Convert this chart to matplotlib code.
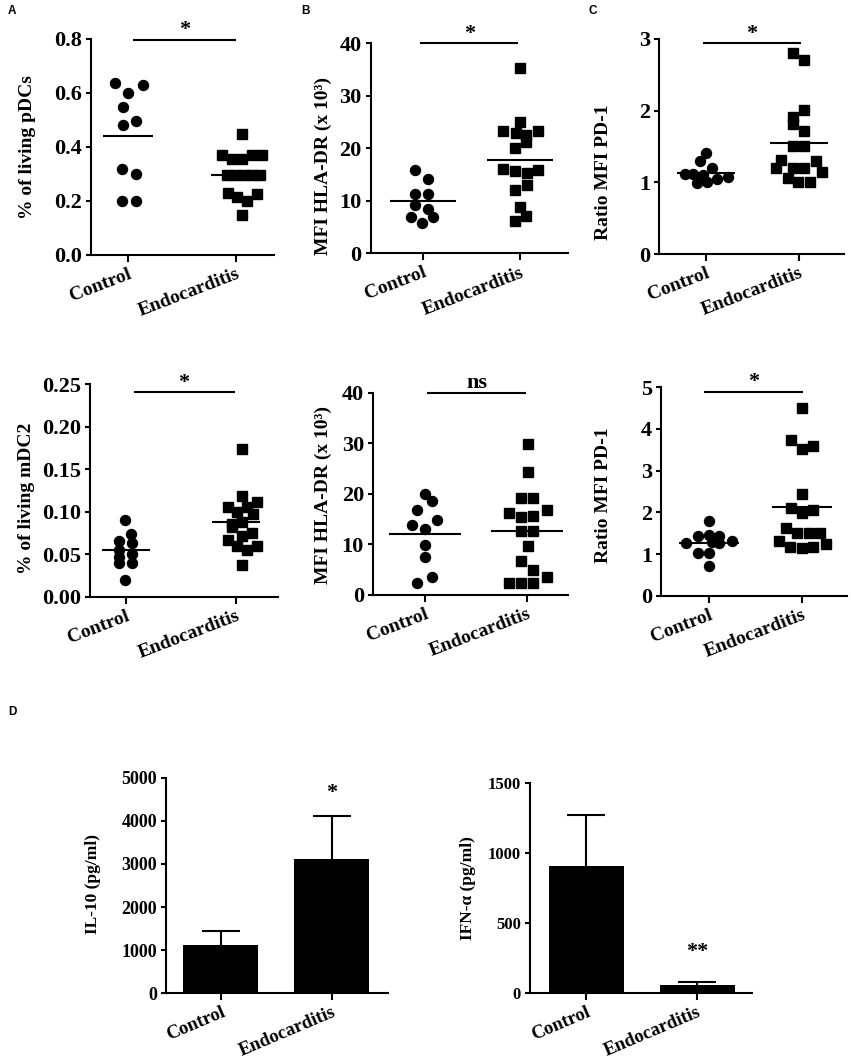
import matplotlib
matplotlib.use("Agg")
import matplotlib.pyplot as plt
import numpy as np

W, H = 851, 1062
plt.rcParams['font.family'] = ['Liberation Serif', 'DejaVu Serif']
plt.rcParams['font.weight'] = 'bold'

groups = ["Control", "Endocarditis"]

# ---------------- data ----------------
# A top: % of living pDCs
pdc_ctrl = [0.638, 0.630, 0.601, 0.549, 0.481, 0.497, 0.318, 0.300, 0.200, 0.200]
pdc_ctrl_dx = [-0.124, 0.139, 0.0, -0.046, -0.046, 0.071, -0.053, 0.071, -0.053, 0.071]
pdc_endo = [0.447, 0.370, 0.355, 0.355, 0.370, 0.370, 0.296, 0.296, 0.296, 0.296, 0.296,
            0.228, 0.215, 0.200, 0.225, 0.148]
pdc_endo_dx = [0.053, -0.133, -0.034, 0.053, 0.146, 0.238, -0.087, -0.009, 0.068, 0.146, 0.217,
               -0.071, 0.012, 0.099, 0.192, 0.053]

# B top: MFI HLA-DR pDCs
hla1_ctrl = [15.9, 14.1, 11.2, 11.2, 9.2, 8.4, 7.0, 6.9, 5.7]
hla1_ctrl_dx = [-0.08, 0.045, -0.08, 0.045, -0.08, 0.045, -0.13, 0.10, -0.013]
hla1_endo = [35.2, 25.1, 23.3, 22.9, 23.3, 22.5, 21.2, 20.0, 16.1, 15.6, 15.2, 15.9, 13.1,
             12.1, 8.9, 7.1, 6.2]
hla1_endo_dx = [0, 0, -0.18, -0.05, 0.18, 0.06, 0.06, -0.06, -0.18, -0.06, 0.07, 0.18, 0.07,
                -0.06, 0, 0.06, -0.06]

# C top: Ratio MFI PD-1 pDCs
pd1_ctrl = [1.405, 1.30, 1.205, 1.116, 1.116, 1.10, 1.08, 1.04, 0.995, 1.0]
pd1_ctrl_dx = [0.0, -0.07, 0.06, -0.225, -0.136, -0.036, 0.24, 0.12, -0.1, 0.007]
pd1_endo = [2.81, 2.71, 2.01, 1.91, 1.82, 1.72, 1.51, 1.51, 1.31, 1.30, 1.20, 1.20, 1.20,
            1.14, 1.06, 1.01, 1.01]
pd1_endo_dx = [-0.07, 0.054, 0.054, -0.07, -0.07, 0.054, -0.07, 0.054, -0.196, 0.18, -0.25,
               -0.07, 0.054, 0.246, -0.125, -0.01, 0.114]

# A bottom: % of living mDC2
mdc_ctrl = [0.0903, 0.0735, 0.066, 0.055, 0.047, 0.040, 0.063, 0.050, 0.040, 0.0196]
mdc_ctrl_dx = [-0.01, 0.045, -0.07, -0.07, -0.07, -0.07, 0.052, 0.052, 0.052, -0.01]
mdc_endo = [0.1735, 0.119, 0.112, 0.105, 0.105, 0.100, 0.097, 0.088, 0.085, 0.082, 0.075,
            0.072, 0.067, 0.060, 0.060, 0.055, 0.037]
mdc_endo_dx = [0.05, 0.05, 0.19, -0.076, 0.097, 0.006, 0.15, 0.05, -0.04, -0.04, 0.14, 0.05,
               -0.076, 0.006, 0.19, 0.097, 0.05]

# B bottom: MFI HLA-DR mDC2
hla2_ctrl = [19.9, 18.6, 16.8, 14.8, 13.8, 13.0, 9.9, 7.6, 3.6, 2.3]
hla2_ctrl_dx = [0, 0.066, -0.075, 0.12, -0.125, 0, 0, 0, 0.066, -0.075]
hla2_endo = [29.8, 24.4, 19.1, 19.1, 16.2, 15.4, 15.6, 16.8, 12.7, 12.7, 9.75, 6.8, 4.94,
             2.43, 2.31, 2.43, 3.6]
hla2_endo_dx = [0.007, 0.007, -0.06, 0.06, -0.18, -0.06, 0.06, 0.19, -0.06, 0.06, 0.007,
                -0.06, 0.06, -0.18, -0.06, 0.06, 0.19]

# C bottom: Ratio MFI PD-1 mDC2
pd2_ctrl = [1.80, 1.43, 1.46, 1.43, 1.26, 1.31, 1.26, 1.29, 1.03, 1.03, 0.71]
pd2_ctrl_dx = [0.003, -0.115, 0.003, 0.11, -0.247, 0.244, 0.11, 0.03, -0.115, 0.003, 0.003]
pd2_endo = [4.51, 3.74, 3.60, 3.51, 2.43, 2.10, 2.06, 1.99, 1.62, 1.50, 1.50, 1.50, 1.31,
            1.18, 1.14, 1.18, 1.23]
pd2_endo_dx = [0, -0.118, 0.12, 0, 0, -0.118, 0.12, 0, -0.17, -0.057, 0.068, 0.186, -0.255,
               -0.13, 0, 0.12, 0.255]

# D: cytokines (mean + SEM)
il10_mean = [1121, 3114]
il10_sem = [324, 997]
ifna_mean = [912, 60]
ifna_sem = [364, 21]

# significance labels
sig_top = ["*", "*", "*"]
sig_bottom = ["*", "ns", "*"]
il10_sig, il10_sig_y = "*", 4520
ifna_sig, ifna_sig_y = "**", 260

fig = plt.figure(figsize=(W / 100, H / 100), dpi=100)


def add_axes(l, t, r, b):
    return fig.add_axes([l / W, 1 - b / H, (r - l) / W, (b - t) / H])


def style(ax, xlim, ylim, yticks, yticklabels, ylabel, lab_xy, fs_tick=16, fs_lab=14,
          fs_x=14, rot=21):
    ax.set_xlim(*xlim)
    ax.set_ylim(*ylim)
    for s in ['top', 'right']:
        ax.spines[s].set_visible(False)
    for s in ['left', 'bottom']:
        ax.spines[s].set_linewidth(1.5)
    ax.set_xticks([0, 1])
    ax.set_xticklabels(groups, fontsize=fs_x, fontweight='bold', rotation=rot,
                       ha='right', va='top', rotation_mode='anchor')
    ax.set_yticks(yticks)
    ax.set_yticklabels(yticklabels, fontsize=fs_tick, fontweight='bold')
    ax.tick_params(axis='y', direction='out', length=3.5, width=1.5, pad=3)
    ax.tick_params(axis='x', direction='out', length=4.8, width=1.5, pad=3)
    fig.text(lab_xy[0] / W, 1 - lab_xy[1] / H, ylabel, rotation=90, ha='center',
             va='center', fontsize=fs_lab, fontweight='bold')


def dots(ax, ctrl, ctrl_dx, endo, endo_dx, hw):
    ax.plot(np.array(ctrl_dx) + 0, ctrl, 'o', ms=7.2, color='k', ls='none', clip_on=False)
    ax.plot(np.array(endo_dx) + 1, endo, 's', ms=6.9, color='k', ls='none', clip_on=False)
    for i, v in enumerate([ctrl, endo]):
        m = np.mean(v)
        ax.plot([i - hw, i + hw], [m, m], color='k', lw=1.5, solid_capstyle='butt')


def sig(ax, x0, x1, y, txt):
    ax.plot([x0, x1], [y, y], color='k', lw=1.5, clip_on=False, solid_capstyle='butt')
    ax.annotate(txt, xy=((x0 + x1) / 2, y), xytext=(0, 3.3), textcoords='offset points',
                ha='center', va='baseline', fontsize=16, fontweight='bold',
                annotation_clip=False)


def bars(ax, means, sems, cap_hw=0.175):
    ax.bar([0, 1], means, width=0.675, color='k', zorder=2)
    for i, (m, e) in enumerate(zip(means, sems)):
        ax.plot([i, i], [m, m + e], color='k', lw=1.5, zorder=1, solid_capstyle='butt')
        ax.plot([i - cap_hw, i + cap_hw], [m + e, m + e], color='k', lw=1.5, zorder=1,
                solid_capstyle='butt')


# ---- top row ----
axA = add_axes(90.7, 39, 274, 255)
dots(axA, pdc_ctrl, pdc_ctrl_dx, pdc_endo, pdc_endo_dx, 0.23)
style(axA, (-0.345, 1.35), (0, 0.8), [0, 0.2, 0.4, 0.6, 0.8],
      ["0.0", "0.2", "0.4", "0.6", "0.8"], "% of living pDCs", (27, 147))
sig(axA, 0.05, 1.0, 0.796, sig_top[0])

axB = add_axes(370.7, 43.3, 568, 253.3)
dots(axB, hla1_ctrl, hla1_ctrl_dx, hla1_endo, hla1_endo_dx, 0.34)
style(axB, (-0.54, 1.49), (0, 40), [0, 10, 20, 30, 40],
      ["0", "10", "20", "30", "40"], "MFI HLA-DR (x 10³)", (323, 166))
sig(axB, -0.03, 0.98, 40, sig_top[1])

axC = add_axes(659, 39, 844, 254)
dots(axC, pd1_ctrl, pd1_ctrl_dx, pd1_endo, pd1_endo_dx, 0.31)
style(axC, (-0.505, 1.48), (0, 3), [0, 1, 2, 3], ["0", "1", "2", "3"],
      "Ratio MFI PD-1", (603, 172))
sig(axC, -0.035, 1.02, 2.94, sig_top[2])

# ---- middle row ----
axD = add_axes(90, 384.3, 278, 596.7)
dots(axD, mdc_ctrl, mdc_ctrl_dx, mdc_endo, mdc_endo_dx, 0.22)
style(axD, (-0.33, 1.38), (0, 0.25), [0, 0.05, 0.10, 0.15, 0.20, 0.25],
      ["0.00", "0.05", "0.10", "0.15", "0.20", "0.25"], "% of living mDC2", (27, 498))
sig(axD, 0.066, 0.985, 0.2406, sig_bottom[0])

axE = add_axes(373, 392.7, 568, 595)
dots(axE, hla2_ctrl, hla2_ctrl_dx, hla2_endo, hla2_endo_dx, 0.35)
style(axE, (-0.51, 1.40), (0, 40), [0, 10, 20, 30, 40],
      ["0", "10", "20", "30", "40"], "MFI HLA-DR (x 10³)", (323, 495))
sig(axE, 0.02, 0.99, 40, sig_bottom[1])

axF = add_axes(661, 387.3, 847, 595.7)
dots(axF, pd2_ctrl, pd2_ctrl_dx, pd2_endo, pd2_endo_dx, 0.32)
style(axF, (-0.516, 1.48), (0, 5), [0, 1, 2, 3, 4, 5],
      ["0", "1", "2", "3", "4", "5"], "Ratio MFI PD-1", (603, 495))
sig(axF, -0.054, 1.01, 4.89, sig_bottom[2])

# ---- D row ----
axG = add_axes(166, 777.7, 388, 993.3)
bars(axG, il10_mean, il10_sem)
style(axG, (-0.495, 1.505), (0, 5000), [0, 1000, 2000, 3000, 4000, 5000],
      ["0", "1000", "2000", "3000", "4000", "5000"], "IL-10 (pg/ml)", (93, 884),
      fs_tick=13, fs_lab=12.5, fs_x=13.5, rot=23)
axG.text(1, il10_sig_y, il10_sig, ha='center', va='baseline', fontsize=16, fontweight='bold')

axH = add_axes(530, 783.3, 752, 993.3)
bars(axH, ifna_mean, ifna_sem)
style(axH, (-0.505, 1.495), (0, 1500), [0, 500, 1000, 1500],
      ["0", "500", "1000", "1500"], "IFN-α (pg/ml)", (468, 888),
      fs_tick=12, fs_lab=12.5, fs_x=13.5, rot=23)
axH.text(1, ifna_sig_y, ifna_sig, ha='center', va='baseline', fontsize=16, fontweight='bold')

# panel letters
for (x, y, t) in [(12, 11, "A"), (305.5, 10.5, "B"), (593, 11, "C"), (12, 712, "D")]:
    fig.text(x / W, 1 - y / H, t, ha='center', va='center', fontsize=8.5,
             fontweight='bold', family='Liberation Sans')

fig.savefig("out.png", dpi=100)
